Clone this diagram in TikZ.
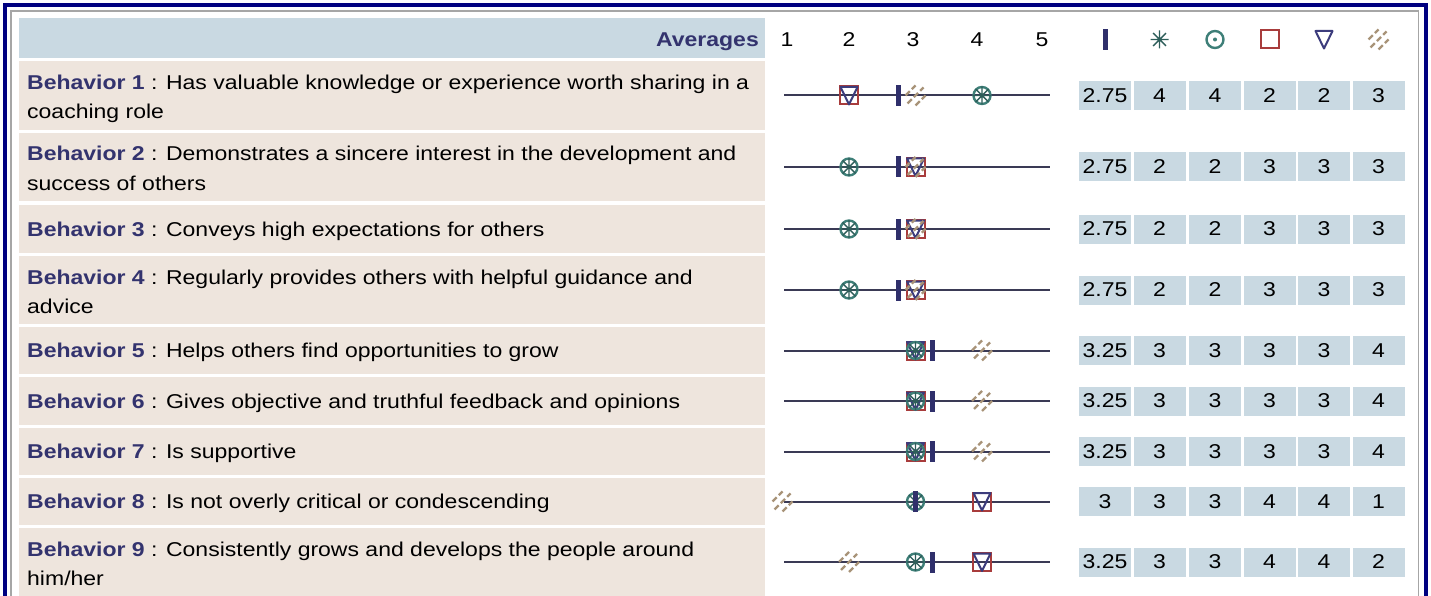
\documentclass[tikz,border=0pt]{standalone}
\usepackage{fontspec}
\setmainfont[FakeStretch=1.15]{Liberation Sans}
\definecolor{hdr}{RGB}{201,217,226}
\definecolor{beige}{RGB}{238,229,221}
\definecolor{lab}{RGB}{51,51,110}
\definecolor{framec}{RGB}{0,0,128}
\definecolor{avgc}{RGB}{47,47,107}
\definecolor{astc}{RGB}{46,94,90}
\definecolor{circc}{RGB}{62,127,120}
\definecolor{sqc}{RGB}{168,60,60}
\definecolor{tric}{RGB}{60,60,124}
\definecolor{hatc}{RGB}{168,147,120}
\definecolor{linec}{RGB}{58,58,85}
\tikzset{
  txt/.style={font=\fontsize{20}{28}\selectfont, inner sep=0pt, anchor=base west},
  valcell/.style={fill=hdr, minimum width=52pt, minimum height=29pt, inner sep=0pt, font=\fontsize{20}{28}\selectfont},
  avgbar/.pic={\fill[avgc] (-2.5,-10.5) rectangle (2.5,10.5);},
  astm/.pic={\draw[astc,line width=1.4pt] (-9,0)--(9,0) (0,-9)--(0,9) (-6.4,-6.4)--(6.4,6.4) (-6.4,6.4)--(6.4,-6.4);},
  circm/.pic={\draw[circc,line width=2.4pt] (0,0) circle[radius=8.5]; \fill[circc] (0,0) circle[radius=2];},
  sqm/.pic={\draw[sqc,line width=2pt] (-9,-9) rectangle (9,9);},
  trim/.pic={\draw[tric,line width=2pt,line join=round] (-8.5,-8.5) -- (8.5,-8.5) -- (0,9) -- cycle;},
  hatm/.pic={\draw[hatc,line width=2.4pt,dash pattern=on 6pt off 3pt] (-10,0)--(0,-10) (-8,8)--(8,-8) (0,10)--(10,0);}
}
% #1 row id, #2 top, #3 bottom, #4 avg, #5 ast, #6 circ, #7 sq, #8 tri, #9 hatch
\newcommand\dorow[9]{%
  \pgfmathsetmacro\yc{(#2+#3)/2}
  \fill[beige] (19,#2) rectangle (765,#3);
  \coordinate (s#1a) at (784,\yc);
  \coordinate (s#1b) at (1050,\yc);
  \draw[linec, line width=2pt] (s#1a) -- (s#1b);
  \pic at ({782.5+(#7-1)*66.5},\yc) {sqm};
  \pic at ({782.5+(#8-1)*66.5},\yc) {trim};
  \pic at ({782.5+(#9-1)*66.5},\yc) {hatm};
  \pic at ({782.5+(#6-1)*66.5},\yc) {circm};
  \pic at ({782.5+(#5-1)*66.5},\yc) {astm};
  \pic at ({782.5+(#4-1)*66.5},\yc) {avgbar};
  \node[valcell] (v#1a) at (1105,\yc) {#4};
  \node[valcell] (v#1b) at (1159.5,\yc) {#5};
  \node[valcell] (v#1c) at (1215,\yc) {#6};
  \node[valcell] (v#1d) at (1269.5,\yc) {#7};
  \node[valcell] (v#1e) at (1324,\yc) {#8};
  \node[valcell] (v#1f) at (1378.5,\yc) {#9};
}
\newcommand\bhv[1]{\textcolor{lab}{\bfseries Behavior #1}}
\begin{document}
\begin{tikzpicture}[x=1pt,y=-1pt]
\useasboundingbox (0,0) rectangle (1431,596);
\clip (0,0) rectangle (1431,596);
\fill[white] (0,0) rectangle (1431,596);
\draw[framec, line width=4pt] (5,5) rectangle (1426,640);
\draw[gray!70, line width=1.5pt] (11,11) rectangle (1418.5,640);
% header
\fill[hdr] (19,18) rectangle (765,58);
\node[txt, anchor=base east, font=\fontsize{20}{28}\selectfont\bfseries, text=lab] (avg) at (759,47) {Averages};
\foreach \n/\xx in {1/787,2/849,3/913,4/977,5/1042}
  \node[txt, anchor=base] (h\n) at (\xx,47) {\n};
\pic at (1105,39.5) {avgbar};
\pic at (1159.5,39.5) {astm};
\pic at (1215,39.5) {circm};
\pic at (1269.5,39.5) {sqm};
\pic at (1324,39.5) {trim};
\pic at (1378.5,39.5) {hatm};
% rows
\dorow{1}{61}{130}{2.75}{4}{4}{2}{2}{3}
\dorow{2}{133}{201}{2.75}{2}{2}{3}{3}{3}
\dorow{3}{205}{253}{2.75}{2}{2}{3}{3}{3}
\dorow{4}{256}{324}{2.75}{2}{2}{3}{3}{3}
\dorow{5}{327}{374}{3.25}{3}{3}{3}{3}{4}
\dorow{6}{377}{425}{3.25}{3}{3}{3}{3}{4}
\dorow{7}{428}{475}{3.25}{3}{3}{3}{3}{4}
\dorow{8}{478}{525}{3}{3}{3}{4}{4}{1}
\dorow{9}{528}{596}{3.25}{3}{3}{4}{4}{2}
% labels
\node[txt] (l1a) at (27,89.5) {\bhv{1} : Has valuable knowledge or experience worth sharing in a};
\node[txt] (l1b) at (27,118.5) {coaching role};
\node[txt] (l2a) at (27,161) {\bhv{2} : Demonstrates a sincere interest in the development and};
\node[txt] (l2b) at (27,190) {success of others};
\node[txt] (l3a) at (27,236) {\bhv{3} : Conveys high expectations for others};
\node[txt] (l4a) at (27,284) {\bhv{4} : Regularly provides others with helpful guidance and};
\node[txt] (l4b) at (27,313) {advice};
\node[txt] (l5a) at (27,357.5) {\bhv{5} : Helps others find opportunities to grow};
\node[txt] (l6a) at (27,408) {\bhv{6} : Gives objective and truthful feedback and opinions};
\node[txt] (l7a) at (27,458.5) {\bhv{7} : Is supportive};
\node[txt] (l8a) at (27,508.5) {\bhv{8} : Is not overly critical or condescending};
\node[txt] (l9a) at (27,556) {\bhv{9} : Consistently grows and develops the people around};
\node[txt] (l9b) at (27,585) {him/her};
\end{tikzpicture}
\end{document}
